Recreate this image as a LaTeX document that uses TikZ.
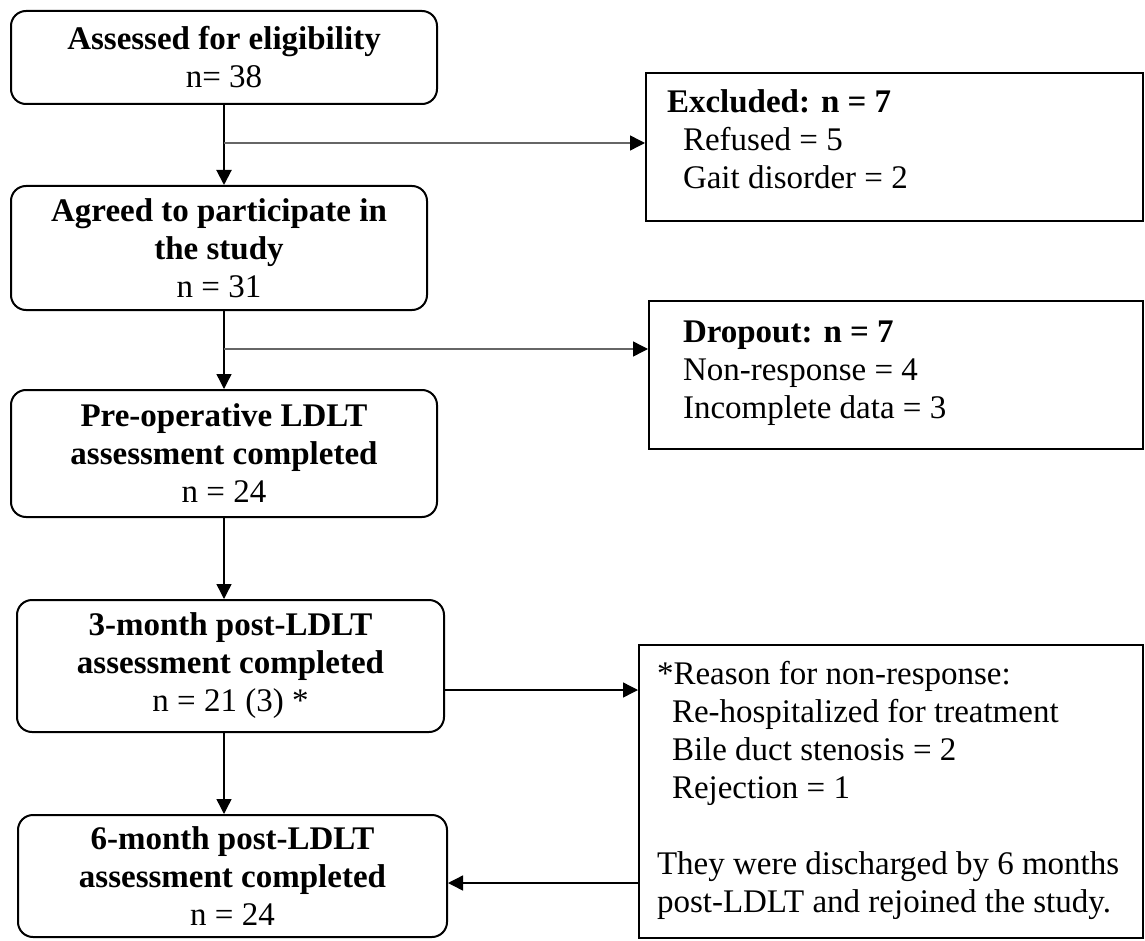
\documentclass[tikz,border=0pt]{standalone}
\usepackage{fontspec}
\setmainfont{Liberation Serif}
\usetikzlibrary{arrows.meta}

\begin{document}
\begin{tikzpicture}[x=0.5pt, y=-0.5pt]
    \tikzstyle{stage}=[draw, line width=1pt, rounded corners=7.5pt, align=center, inner sep=0pt, font=\fontsize{16.5}{19}\selectfont]
    \tikzstyle{sidebox}=[draw, line width=1pt, align=flush left, inner ysep=0pt, text height=10pt, font=\fontsize{16.5}{19}\selectfont]
    \tikzstyle{flow}=[-{Triangle[length=7.5pt, width=7.5pt, color=black]}, line width=0.7pt]

    \fill[white] (0,0) rectangle (1145,941);
    \useasboundingbox (0,0) rectangle (1145,941);

    % main column
    \node[stage, minimum width=213pt, minimum height=46.5pt] (assess) at (224,57.5) {\textbf{Assessed for eligibility}\\n= 38};
    \node[stage, minimum width=208pt, minimum height=62pt] (agree) at (219,248) {\textbf{Agreed to participate in}\\\textbf{the study}\\n = 31};
    \node[stage, minimum width=213pt, minimum height=63.5pt] (preop) at (224,453.5) {\textbf{Pre-operative LDLT}\\\textbf{assessment completed}\\n = 24};
    \node[stage, minimum width=213.5pt, minimum height=66pt] (three) at (230.5,666) {\textbf{3-month post-LDLT}\\\textbf{assessment completed}\\n = 21 (3) *};
    \node[stage, minimum width=214.5pt, minimum height=61pt] (six) at (232.5,876) {\textbf{6-month post-LDLT}\\\textbf{assessment completed}\\n = 24};

    % side boxes
    \node[sidebox, minimum width=248.5pt, minimum height=74pt, inner xsep=10.5pt, text width=227.5pt, text depth=44pt] (excl) at (894.5,147)
        {\textbf{Excluded: n = 7}\\ \hspace*{8pt}Refused = 5\\ \hspace*{8pt}Gait disorder = 2};
    \node[sidebox, minimum width=247pt, minimum height=74pt, inner xsep=17pt, text width=213pt, text depth=43pt] (drop) at (896,375)
        {\textbf{Dropout: n = 7}\\Non-response = 4\\Incomplete data = 3};
    \node[sidebox, minimum width=252pt, minimum height=146.5pt, inner xsep=9pt, text width=234pt, text depth=117.5pt] (note) at (891,791.5)
        {*Reason for non-response:\\ \hspace*{7.5pt}Re-hospitalized for treatment\\ \hspace*{7.5pt}Bile duct stenosis = 2\\ \hspace*{7.5pt}Rejection = 1\\[19pt]They were discharged by 6 months\\post-LDLT and rejoined the study.};

    \coordinate (axis) at (224,0);
    \coordinate (b1) at (224,143);
    \coordinate (b2) at (224,349);
    \coordinate (c3) at (444,690);
    \coordinate (c6) at (639,883);

    \foreach \a/\b/\w in {assess/agree/1pt, agree/preop/0.7pt, preop/three/0.7pt, three/six/0.7pt} {
        \draw[flow, line width=\w] (\a.south -| axis) -- (\b.north -| axis);
    }

    \foreach \p/\t in {b1/excl, b2/drop} {
        \draw[flow, draw=black!60] (\p) -- (\p -| \t.west);
    }

    \draw[flow] (c3) -- (c3 -| note.west);
    \draw[flow] (c6) -- (c6 -| six.east);
\end{tikzpicture}
\end{document}
